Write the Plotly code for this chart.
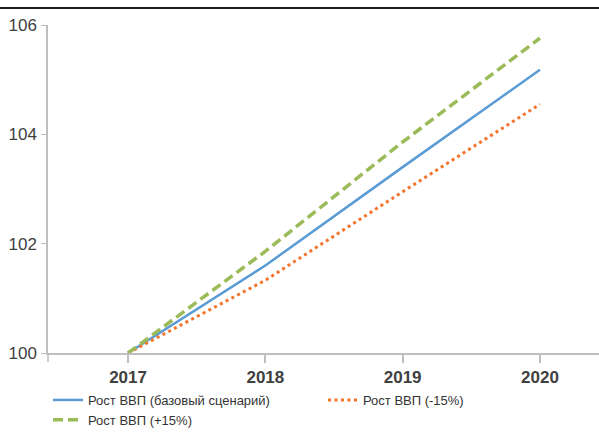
import plotly.graph_objects as go

years = [2017, 2018, 2019, 2020]
base = [100.0, 101.6, 103.4, 105.18]
minus15 = [100.0, 101.33, 102.95, 104.55]
plus15 = [100.0, 101.86, 103.86, 105.76]
y_ticks = [100, 102, 104, 106]

fig = go.Figure()
fig.add_trace(go.Scatter(x=years, y=base, mode="lines", name="Рост ВВП (базовый сценарий)",
                         line=dict(color="#5b9bd5", width=2.5)))
fig.add_trace(go.Scatter(x=years, y=minus15, mode="lines", name="Рост ВВП (-15%)",
                         line=dict(color="#f5722a", width=3, dash="3px,3.5px")))
fig.add_trace(go.Scatter(x=years, y=plus15, mode="lines", name="Рост ВВП (+15%)",
                         line=dict(color="#9bbb59", width=3.5, dash="10px,5px")))

PH = 328.0
PW = 551.0
fig.update_layout(
    width=599, height=433,
    margin=dict(l=48, r=0, t=25, b=80, autoexpand=False),
    paper_bgcolor="white", plot_bgcolor="white",
    font=dict(family="Liberation Sans, Arial, sans-serif", color="#404040"),
    xaxis=dict(range=[2016.417, 2020.43], tickvals=years, ticktext=[str(y) for y in years],
               showline=True, linecolor="#bfbfbf", linewidth=2, ticks="outside",
               ticklen=8, tickcolor="#bfbfbf", tickwidth=1.5, showgrid=False, zeroline=False,
               tickfont=dict(size=17, family="Liberation Sans, Arial, sans-serif", color="#404040",
                             weight="bold")),
    yaxis=dict(range=[100, 106], tickvals=y_ticks, showline=True, linecolor="#bfbfbf",
               linewidth=1.5, ticks="outside", ticklen=5, tickcolor="#bfbfbf", tickwidth=1,
               showgrid=False, zeroline=False, ticklabelstandoff=1,
               tickfont=dict(size=17, color="#404040")),
    legend=dict(orientation="h", x=0.0, xanchor="left", y=-32 / PH, yanchor="top",
                entrywidth=230, entrywidthmode="pixels",
                font=dict(size=13, color="#333333"), traceorder="normal",
                itemwidth=30, tracegroupgap=0),
    showlegend=True,
)

fig.add_shape(type="line", xref="paper", yref="paper", x0=-48 / PW, x1=1.0,
              y0=1 + 17 / PH, y1=1 + 17 / PH,
              line=dict(color="#1a1a1a", width=2))
fig.add_shape(type="line", xref="paper", yref="paper", x0=0, x1=0, y0=0, y1=-9 / PH,
              line=dict(color="#bfbfbf", width=1.5))

fig.write_html("out.html", config={"displayModeBar": False},
               post_script="document.body.style.margin='0';")
